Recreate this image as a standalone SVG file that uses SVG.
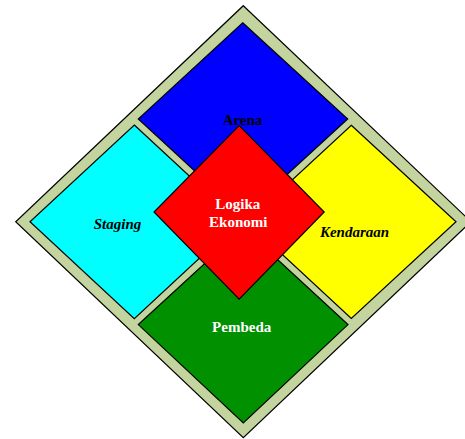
<svg xmlns="http://www.w3.org/2000/svg" width="465" height="439" viewBox="0 0 465 439">
<style>
.s{stroke:#000;stroke-width:1.2;stroke-linejoin:miter}
.t{font-family:"Liberation Serif","Times New Roman",serif;font-size:15px;font-weight:bold;text-anchor:middle}
.i{font-style:italic}
.w{fill:#fff}
.k{fill:#000}
</style>
<rect width="465" height="439" fill="#fff"/>
<g id="frame"><polygon class="s" fill="#C3D49E" points="243.3,5.7 471,221.7 243.3,437.7 15.7,221.7"/></g>
<g id="arena"><polygon class="s" fill="#0000FF" points="242.7,22.7 347.7,119 242.7,215.3 138.3,119"/><text class="t k" x="242.5" y="125">Arena</text></g>
<g id="staging"><polygon class="s" fill="#00FFFF" points="134.3,125 238.7,221.7 134.3,318.6 30,221.7"/><text class="t k i" x="117.5" y="228.5">Staging</text></g>
<g id="kendaraan"><polygon class="s" fill="#FFFF00" points="351.3,125.3 456,221.7 351.3,318.4 247,221.7"/><text class="t k i" x="354.5" y="237">Kendaraan</text></g>
<g id="pembeda"><polygon class="s" fill="#009000" points="243.3,228 348,324.6 243.3,423 138.3,324.6"/><text class="t w" x="241.7" y="332">Pembeda</text></g>
<g id="logika"><polygon class="s" fill="#FF0000" points="239.2,125.7 324.2,212 239.2,299.2 154,212"/><text class="t w" x="237.8" y="209">Logika</text><text class="t w" x="238.3" y="226.8">Ekonomi</text></g>
<g id="connectors"></g>
</svg>
